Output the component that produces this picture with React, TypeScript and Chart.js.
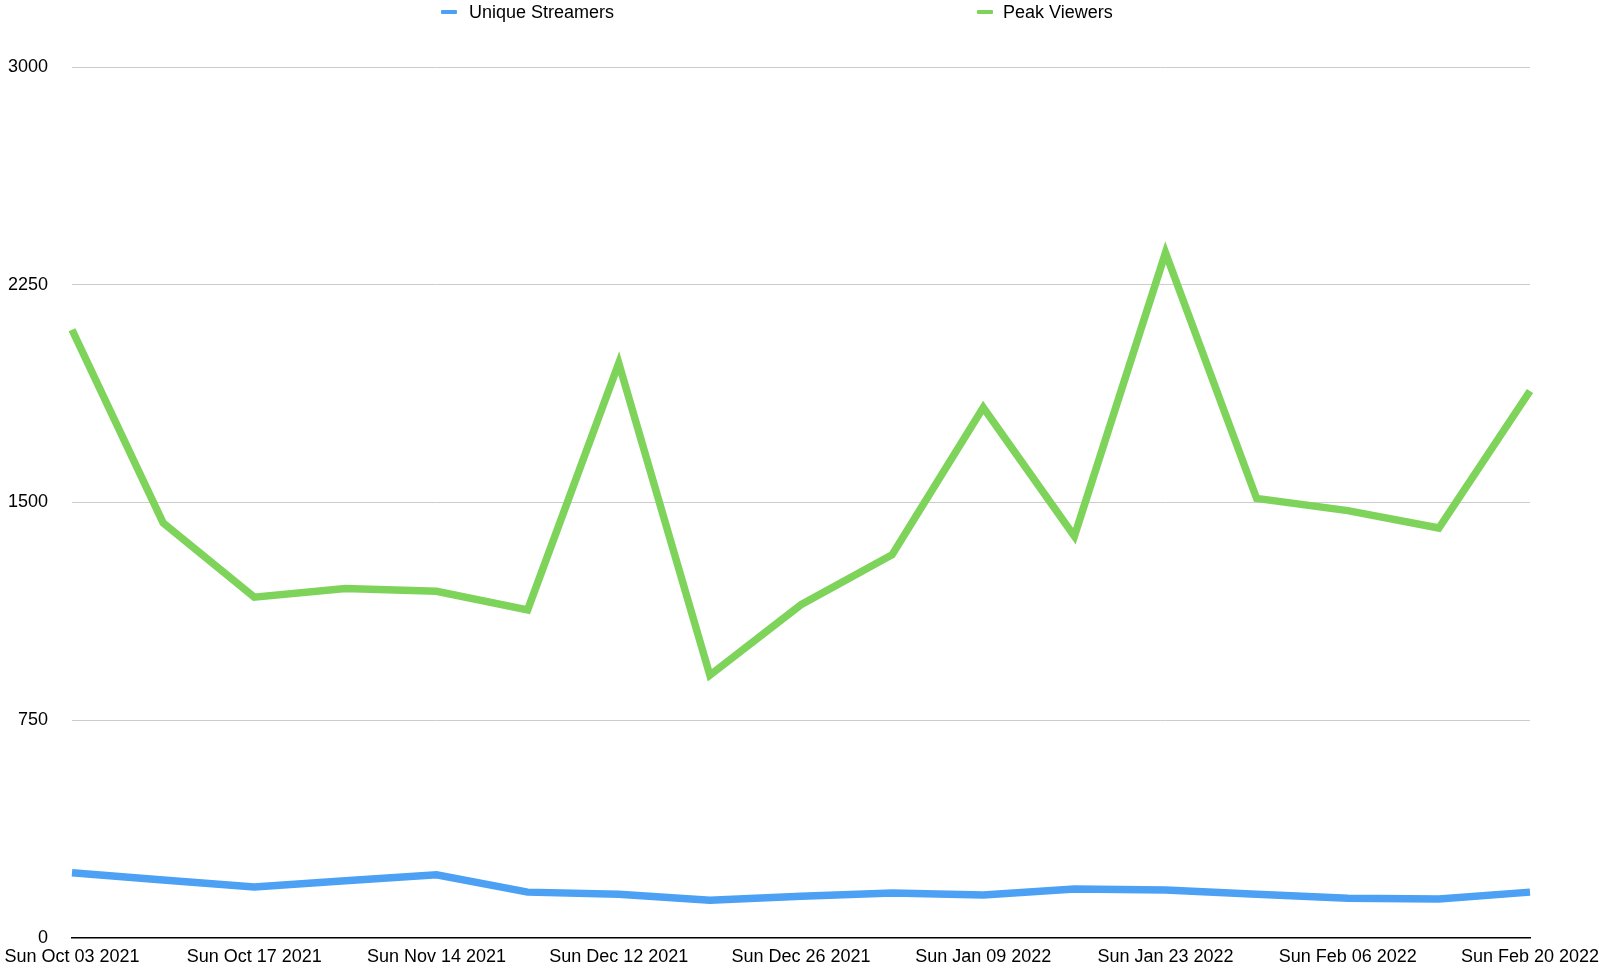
import React, { useEffect, useRef } from "react";
import { Chart, registerables } from "chart.js";

Chart.register(...registerables);

const categories = [
  "Sun Oct 03 2021",
  "Sun Oct 10 2021",
  "Sun Oct 17 2021",
  "Sun Oct 31 2021",
  "Sun Nov 14 2021",
  "Sun Nov 28 2021",
  "Sun Dec 12 2021",
  "Sun Dec 19 2021",
  "Sun Dec 26 2021",
  "Sun Jan 02 2022",
  "Sun Jan 09 2022",
  "Sun Jan 16 2022",
  "Sun Jan 23 2022",
  "Sun Jan 30 2022",
  "Sun Feb 06 2022",
  "Sun Feb 13 2022",
  "Sun Feb 20 2022",
];

const uniqueStreamers = [225, 200, 176, 197, 218, 158, 151, 130, 144, 155, 148, 169, 165, 151, 137, 134, 158];
const peakViewers = [2095, 1430, 1174, 1204, 1194, 1130, 1980, 905, 1148, 1320, 1827, 1384, 2360, 1514, 1472, 1412, 1884];

const yTicks = [0, 750, 1500, 2250, 3000];

const BLUE = "#4ca1f5";
const GREEN = "#7ed45a";
const FONT = "'Liberation Sans', Arial, Helvetica, sans-serif";

export default function App() {
  const canvasRef = useRef<HTMLCanvasElement | null>(null);

  useEffect(() => {
    document.body.style.margin = "0";
    const canvas = canvasRef.current;
    if (!canvas) return;
    const chart = new Chart(canvas, {
      type: "line",
      data: {
        labels: categories,
        datasets: [
          {
            label: "Unique Streamers",
            data: uniqueStreamers,
            borderColor: BLUE,
            backgroundColor: BLUE,
            borderWidth: 7.5,
            pointRadius: 0,
            tension: 0,
          },
          {
            label: "Peak Viewers",
            data: peakViewers,
            borderColor: GREEN,
            backgroundColor: GREEN,
            borderWidth: 7.5,
            pointRadius: 0,
            tension: 0,
          },
        ],
      },
      options: {
        responsive: false,
        animation: false,
        layout: { padding: { left: 0, right: 70, top: 67, bottom: 0 } },
        plugins: {
          legend: { display: false },
          tooltip: { enabled: false },
        },
        scales: {
          x: {
            grid: { display: false, drawTicks: false },
            border: { display: true, color: "#000", width: 1.5 },
            ticks: {
              autoSkip: false,
              maxRotation: 0,
              minRotation: 0,
              padding: 0,
              color: "#000",
              font: { family: FONT, size: 18, lineHeight: 2.15 },
              callback: (_v: any, i: number) => (i % 2 === 0 ? categories[i] : ""),
            },
            afterFit: (s: any) => {
              s.height = 29;
            },
          },
          y: {
            min: yTicks[0],
            max: yTicks[yTicks.length - 1],
            afterBuildTicks: (s: any) => {
              s.ticks = yTicks.map((v) => ({ value: v }));
            },
            grid: {
              drawTicks: false,
              color: (ctx: any) => (ctx.tick && ctx.tick.value === 0 ? "rgba(0,0,0,0)" : "#cccccc"),
              lineWidth: 1,
            },
            border: { display: false },
            ticks: {
              padding: 24,
              color: "#000",
              font: { family: FONT, size: 18, lineHeight: 0.4 },
              callback: (v: any) => String(v),
            },
            afterFit: (s: any) => {
              s.width = 72;
            },
          },
        },
      },
    });
    return () => chart.destroy();
  }, []);

  const legendText: React.CSSProperties = {
    position: "absolute",
    top: 2,
    fontFamily: FONT,
    fontSize: 18,
    color: "#000",
    whiteSpace: "nowrap",
  };
  const marker = (left: number, color: string): React.CSSProperties => ({
    position: "absolute",
    left,
    top: 10,
    width: 16,
    height: 4,
    borderRadius: 1,
    background: color,
  });

  return (
    <div style={{ position: "relative", width: 1600, height: 967, background: "#fff" }}>
      <canvas ref={canvasRef} width={1600} height={967} style={{ position: "absolute", left: 0, top: 0 }} />
      <div style={marker(441, BLUE)} />
      <div style={{ ...legendText, left: 469 }}>Unique Streamers</div>
      <div style={marker(977, GREEN)} />
      <div style={{ ...legendText, left: 1003 }}>Peak Viewers</div>
    </div>
  );
}
